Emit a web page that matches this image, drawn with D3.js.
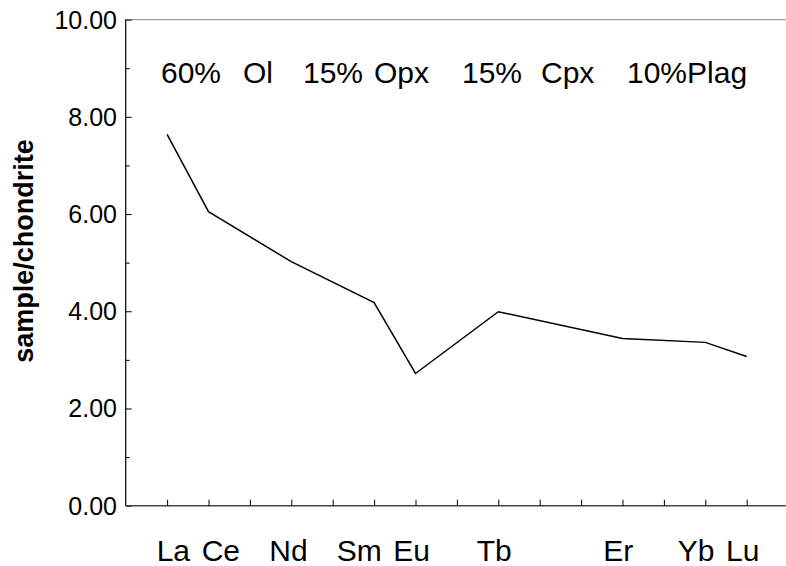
<!DOCTYPE html>
<html>
<head>
<meta charset="utf-8">
<script src="https://cdn.jsdelivr.net/npm/d3@7"></script>
<style>
  html, body { margin: 0; padding: 0; background: #fff; }
  svg { display: block; }
  text { font-family: "Liberation Sans", Arial, sans-serif; fill: #000; }
</style>
</head>
<body>
<svg id="chart" width="786" height="566"></svg>
<script>
// ---- data ----
const elements = ["La","Ce","Pr","Nd","Pm","Sm","Eu","Gd","Tb","Dy","Ho","Er","Tm","Yb","Lu"];
const sampleElements = ["La","Ce","Nd","Sm","Eu","Tb","Er","Yb","Lu"];
const sampleValues = [7.64, 6.05, 5.02, 4.18, 2.72, 3.99, 3.44, 3.36, 3.07];
const yMajorTicks = [0, 2, 4, 6, 8, 10];
const yMinorTicks = [1, 3, 5, 7, 9];
const annotationWords = ["60%", "Ol", "15%", "Opx", "15%", "Cpx", "10%Plag"];
const yTitle = "sample/chondrite";

// ---- layout ----
const plotLeft = 125.7, plotTop = 19.6, plotBottom = 505.7, plotRightEnd = 785.7;
const annotationX = [161, 243, 303, 374, 462, 541, 627];
const labelX = [156.7, 201.7, 269.3, 336.7, 393.3, 476.7, 603.3, 677.7, 726];

const svg = d3.select("#chart");

const x = d3.scaleLinear().domain([0, elements.length]).range([plotLeft, plotLeft + 41.4 * elements.length]);
const y = d3.scaleLinear().domain([0, 10]).range([plotBottom, plotTop]);
const xi = name => elements.indexOf(name) + 1;

// top border (gray)
svg.append("line")
  .attr("x1", plotLeft).attr("x2", plotRightEnd)
  .attr("y1", y(10)).attr("y2", y(10))
  .attr("stroke", "#9a9a9a").attr("stroke-width", 1.2);

// y axis (ticks inward)
const yAxis = d3.axisRight(y).tickValues(yMajorTicks).tickSize(6).tickFormat("");
const gy = svg.append("g").attr("transform", `translate(${plotLeft},0)`).call(yAxis);
gy.select(".domain").attr("stroke", "#000").attr("stroke-width", 1.2).attr("d", `M0,${y(10)}V${y(0)}`);
gy.selectAll(".tick line").attr("stroke", "#000").attr("stroke-width", 1);
const yMinor = d3.axisRight(y).tickValues(yMinorTicks).tickSize(4).tickFormat("");
const gy2 = svg.append("g").attr("transform", `translate(${plotLeft},0)`).call(yMinor);
gy2.select(".domain").remove();
gy2.selectAll(".tick line").attr("stroke", "#000").attr("stroke-width", 1);

// y tick labels
svg.append("g").selectAll("text").data(yMajorTicks).join("text")
  .attr("x", 117).attr("y", d => y(d) + 9)
  .attr("text-anchor", "end")
  .style("font-size", "25px")
  .text(d => d.toFixed(2));

// x axis (ticks inward / upward)
const xAxis = d3.axisTop(x).tickValues(d3.range(1, elements.length + 1)).tickSize(6).tickFormat("");
const gx = svg.append("g").attr("transform", `translate(0,${plotBottom})`).call(xAxis);
gx.select(".domain").attr("stroke", "#444").attr("stroke-width", 1.4).attr("d", `M${plotLeft},0H${plotRightEnd}`);
gx.selectAll(".tick line").attr("stroke", "#000").attr("stroke-width", 1);

// x labels
const xl = svg.append("text").attr("y", 560.7).style("font-size", "30px");
xl.selectAll("tspan").data(sampleElements).join("tspan")
  .attr("x", (d, i) => labelX[i])
  .text(d => d);

// annotation
const an = svg.append("text").attr("y", 83.3).style("font-size", "30px");
an.selectAll("tspan").data(annotationWords).join("tspan")
  .attr("x", (d, i) => annotationX[i])
  .text(d => d);

// y title
svg.append("text")
  .attr("transform", "translate(32.5,251) rotate(-90)")
  .attr("text-anchor", "middle")
  .style("font-size", "27px").style("font-weight", "bold")
  .text(yTitle);

// data line
const line = d3.line().x(d => x(xi(d.el))).y(d => y(d.v));
svg.append("path")
  .datum(sampleElements.map((el, i) => ({el, v: sampleValues[i]})))
  .attr("d", line)
  .attr("fill", "none").attr("stroke", "#000").attr("stroke-width", 1.5);
</script>
</body>
</html>
